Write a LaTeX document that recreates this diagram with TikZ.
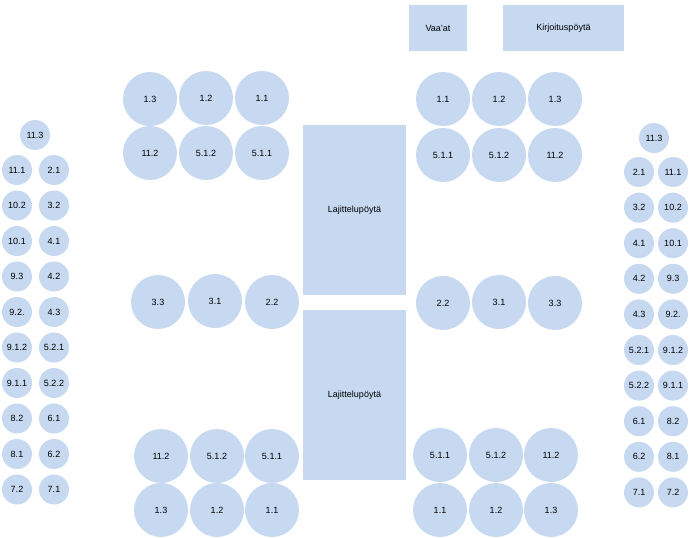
\documentclass[tikz,border=0pt]{standalone}
\usepackage{fontspec}
\setmainfont{Liberation Sans}
\definecolor{fillb}{HTML}{C6D9F1}
\begin{document}
\begin{tikzpicture}[x=1pt,y=-1pt,font=\fontsize{9}{10}\selectfont,
  big/.style={circle,fill=fillb,minimum size=54pt,inner sep=0pt},
  sm/.style={circle,fill=fillb,minimum size=30pt,inner sep=0pt},
  tab/.style={rectangle,fill=fillb,inner sep=0pt}]
\useasboundingbox (0,0) rectangle (691,538);
% tables
\node[tab,minimum width=103pt,minimum height=170pt] (t1) at (354.5,210) {Lajittelupöytä};
\node[tab,minimum width=103pt,minimum height=170pt] (t2) at (354.5,395) {Lajittelupöytä};
\node[tab,minimum width=58pt,minimum height=46pt] (v) at (438,28) {Vaa'at};
\node[tab,minimum width=121pt,minimum height=46pt] (k) at (563.5,28) {Kirjoituspöytä};
% big circles
\foreach \x/\y/\t [count=\i] in {150/99/1.3,206/98/1.2,262/98/1.1,150/153/11.2,206/153/5.1.2,262/153/5.1.1,
 443/99/1.1,499/99/1.2,555/99/1.3,443/155/5.1.1,499/155/5.1.2,555/155/11.2,
 158/302/3.3,215/301/3.1,272/302/2.2,443/303/2.2,499/302/3.1,555/303/3.3,
 161/456/11.2,217/456/5.1.2,272/456/5.1.1,161/510/1.3,217/510/1.2,272/510/1.1,
 440/455/5.1.1,496/455/5.1.2,551/455/11.2,440/510/1.1,496/510/1.2,551/510/1.3}
 \node[big] (b\i) at (\x,\y) {\t};
% left small
\node[sm] (ls) at (35,135) {11.3};
\foreach \a/\b [count=\i from 0] in {11.1/2.1,10.2/3.2,10.1/4.1,9.3/4.2,9.2./4.3,9.1.2/5.2.1,9.1.1/5.2.2,8.2/6.1,8.1/6.2,7.2/7.1}{
 \node[sm] (la\i) at (17,170+35.5*\i) {\a};
 \node[sm] (lb\i) at (54,170+35.5*\i) {\b};}
\node[sm] (rs) at (654,138) {11.3};
\foreach \a/\b [count=\i from 0] in {2.1/11.1,3.2/10.2,4.1/10.1,4.2/9.3,4.3/9.2.,5.2.1/9.1.2,5.2.2/9.1.1,6.1/8.2,6.2/8.1,7.1/7.2}{
 \node[sm] (ra\i) at (639,172+35.6*\i) {\a};
 \node[sm] (rb\i) at (673,172+35.6*\i) {\b};}
\end{tikzpicture}
\end{document}
